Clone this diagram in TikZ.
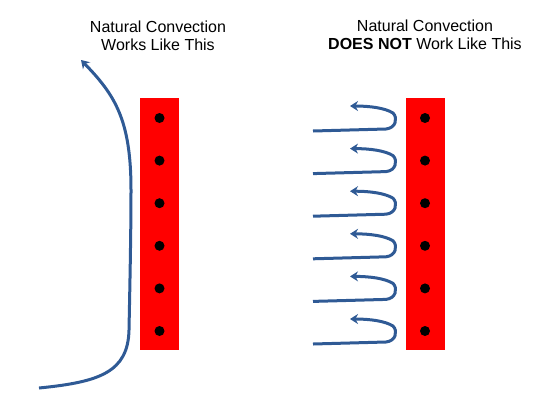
\documentclass[tikz,border=0pt]{standalone}
\usepackage{fontspec}
\setmainfont{Liberation Sans}
\usepackage{tikz}
\usetikzlibrary{arrows.meta,positioning}
\definecolor{heat}{HTML}{FF0000}
\definecolor{flow}{HTML}{2F5A95}
\begin{document}
\begin{tikzpicture}[x=1pt,y=-1pt,
  plate/.style={rectangle,fill=heat,draw=none,minimum width=39pt,
                minimum height=252pt,inner sep=0pt},
  src/.style={circle,fill=black,minimum size=10pt,inner sep=0pt},
  title/.style={align=center,font=\fontsize{16}{18}\selectfont},
  stream/.style={line width=3pt,flow,-{Stealth[length=8pt,width=10pt]}}
]
\useasboundingbox (0,0) rectangle (540,402);
\node[title] (good) at (158,36) {Natural Convection\\Works Like This};
\node[title] (bad) at (425,35) {Natural Convection\\\textbf{DOES NOT} Work Like This};

\node[plate] (pl) at (159.5,223.5) {};
\node[plate] (pr) at (425,223.5) {};
\foreach \i in {1,...,6}{
  \node[src] (l\i) at (159.5,{118+42.6*(\i-1)}) {};
  \node[src] (r\i) at (425,{118+42.6*(\i-1)}) {};
}

\coordinate (up0) at (39,388);
\coordinate (up1) at (81,60);
\draw[stream] (up0) .. controls (100,382) and (128,372) .. (129,330)
  .. controls (130,280) and (131,230) .. (131,190)
  .. controls (131,120) and (115,95) .. (up1);

\foreach \i in {1,...,6}{
  \pgfmathsetmacro{\yc}{118+42.6*(\i-1)}
  \coordinate (s\i) at (313,\yc+13);
  \coordinate (t\i) at (350,\yc-12);
  \draw[stream] (s\i) -- (386,\yc+11) .. controls (396,\yc+10) and (398,\yc) .. (393,\yc-5)
    .. controls (385,\yc-10) and (370,\yc-12) .. (t\i);
}
\end{tikzpicture}
\end{document}
